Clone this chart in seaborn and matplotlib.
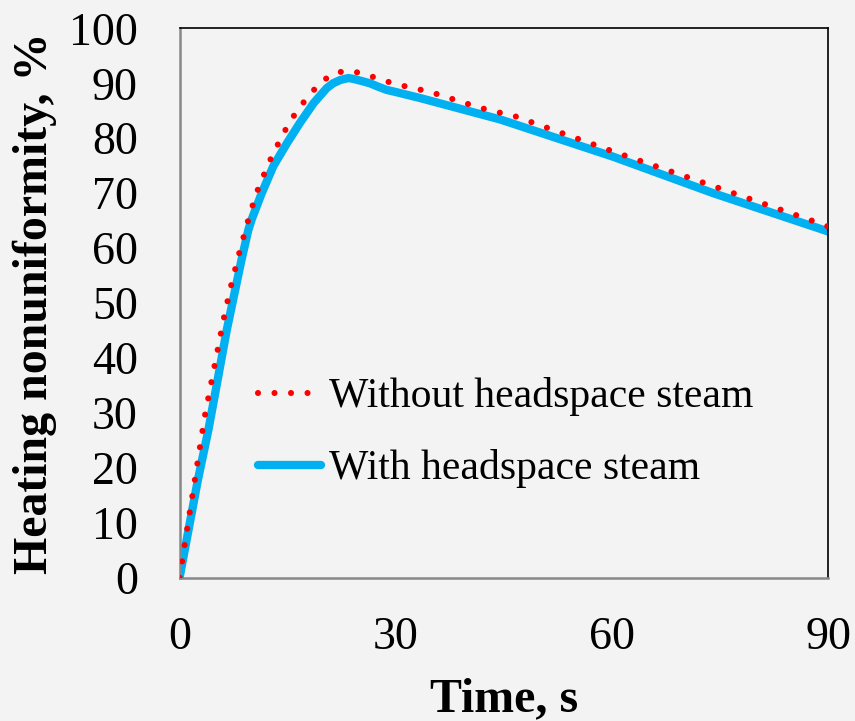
import numpy as np
import pandas as pd
import matplotlib
matplotlib.use("Agg")
import matplotlib.pyplot as plt
import seaborn as sns

# ---- data ----
t_without = [0, 3.5, 6.1, 7, 8.16, 9.3, 10.6, 12.3, 13.3, 14.3, 15.4, 16.7, 18.1, 19.6,
             21.5, 23.6, 25.9, 28, 30.2, 32.4, 34.6, 36.7, 38.9, 41, 43.2, 46.3,
             60.3, 73.1, 87.9, 90]
v_without = [0, 29.4, 47.0, 52.4, 58.5, 64.1, 69.8, 75.3, 78, 80.6, 83.2, 85.7, 88, 90.2,
             91.9, 92.3, 91.6, 90.6, 89.8, 89.1, 88.5, 87.6, 86.7, 85.8, 85.0, 84.1,
             77.5, 71.7, 64.9, 63.9]

t_with = [0, 2.5, 4, 5, 6.55, 8.6, 9.54, 10, 11.4, 13, 14.9, 16.7, 18.6, 20.4, 21.3,
          22.3, 23.4, 24.1, 25, 26.4, 27.5, 28.7, 30, 33.4, 44.5, 60.2, 74, 90]
v_with = [0, 17.5, 26.9, 34.0, 45.1, 57.9, 63.3, 65.2, 70, 74.9, 79.1, 82.8, 86.4, 89.1,
          90.0, 90.6, 90.95, 90.8, 90.5, 90.0, 89.4, 88.8, 88.4, 87.3, 83.4,
          76.6, 70.0, 63.0]

series_names = ["Without headspace steam", "With headspace steam"]
x_ticks = [0, 30, 60, 90]
y_ticks = [0, 10, 20, 30, 40, 50, 60, 70, 80, 90, 100]
x_label = "Time, s"
y_label = "Heating nonuniformity, %"

df = pd.concat([
    pd.DataFrame({"t": t_without, "v": v_without, "s": series_names[0]}),
    pd.DataFrame({"t": t_with, "v": v_with, "s": series_names[1]}),
], ignore_index=True)

sns.set_style("white")
plt.rcParams["font.family"] = ["Liberation Serif", "DejaVu Serif"]
plt.rcParams["text.color"] = "black"
plt.rcParams["axes.labelcolor"] = "black"

bg = "#f3f3f3"
fig = plt.figure(figsize=(8.55, 7.21), dpi=100, facecolor=bg)
ax = fig.add_axes([0.21, 0.1988, 0.969 - 0.21, 0.9607 - 0.1988])
ax.set_facecolor(bg)

sns.lineplot(data=df, x="t", y="v", hue="s", style="s",
             palette={series_names[0]: "#FF0000", series_names[1]: "#00B0F0"},
             dashes={series_names[0]: (0.001, 2.7), series_names[1]: ""},
             sort=False, estimator=None, ax=ax, legend=False)

lines = ax.get_lines()
lines[0].set_linewidth(4.4)
lines[0].set_dash_capstyle("round")
lines[0].set_zorder(3)
lines[1].set_linewidth(6.0)
lines[1].set_solid_capstyle("round")
lines[1].set_solid_joinstyle("round")
lines[1].set_zorder(2)

ax.set_xlim(0, 90)
ax.set_ylim(0, 100)
ax.set_xticks(x_ticks)
ax.set_yticks(y_ticks)
ax.tick_params(axis="both", direction="out", length=10, width=1.5, color="#888888",
               labelsize=33, labelcolor="black")
ax.tick_params(axis="x", pad=18)
ax.tick_params(axis="y", pad=20)

for side in ["left", "bottom"]:
    ax.spines[side].set_color("#888888")
    ax.spines[side].set_linewidth(1.8)
for side in ["top", "right"]:
    ax.spines[side].set_color("black")
    ax.spines[side].set_linewidth(1.2)
    ax.spines[side].set_visible(True)

ax.set_xlabel(x_label, fontsize=34.5, fontweight="bold", labelpad=13, color="black")
ax.set_ylabel(y_label, fontsize=34.5, fontweight="bold", labelpad=9, color="black")

leg = ax.legend(lines, series_names, loc="upper left", bbox_to_anchor=(0.121, 0.365),
                frameon=False, fontsize=30, handlelength=1.5, handletextpad=0.2,
                borderpad=0, borderaxespad=0, labelspacing=0.8)
for txt in leg.get_texts():
    txt.set_color("black")

fig.savefig("out.png", dpi=100, facecolor=bg)
